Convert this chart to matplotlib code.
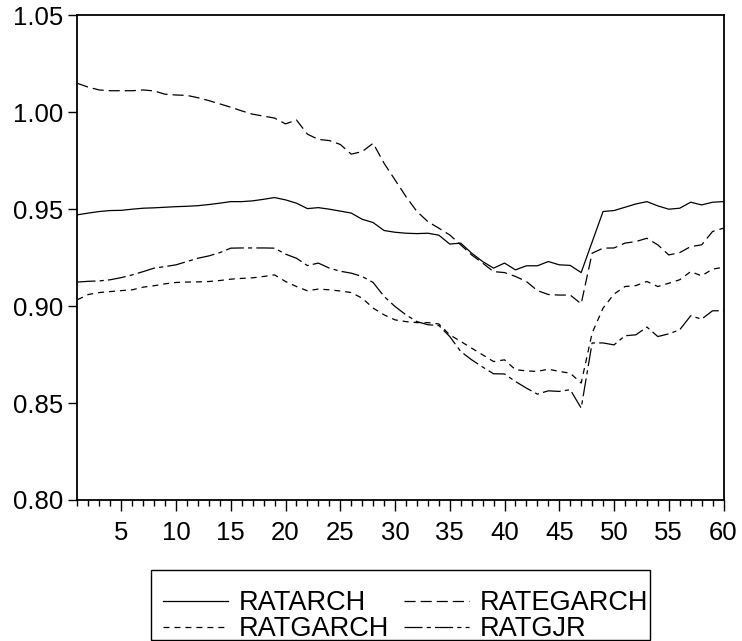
import numpy as np
import matplotlib
matplotlib.use("Agg")
import matplotlib.pyplot as plt
from matplotlib.patches import Rectangle

obs = np.arange(1, 61)

ratarch = [0.9471, 0.9480, 0.9488, 0.9493, 0.9494, 0.9500, 0.9505, 0.9507, 0.9510, 0.9513,
           0.9515, 0.9518, 0.9524, 0.9531, 0.9539, 0.9539, 0.9543, 0.9551, 0.9560, 0.9548,
           0.9531, 0.9503, 0.9508, 0.9500, 0.9490, 0.9480, 0.9448, 0.9431, 0.9390, 0.9381,
           0.9376, 0.9374, 0.9376, 0.9366, 0.9320, 0.9325, 0.9273, 0.9230, 0.9196, 0.9222,
           0.9187, 0.9208, 0.9208, 0.9230, 0.9213, 0.9210, 0.9173, 0.9331, 0.9488, 0.9493,
           0.9510, 0.9527, 0.9539, 0.9517, 0.9500, 0.9505, 0.9536, 0.9522, 0.9536, 0.9539]

ratgarch = [0.9033, 0.9060, 0.9070, 0.9075, 0.9080, 0.9084, 0.9098, 0.9105, 0.9115, 0.9122,
            0.9124, 0.9125, 0.9127, 0.9132, 0.9139, 0.9143, 0.9146, 0.9153, 0.9161, 0.9127,
            0.9101, 0.9079, 0.9088, 0.9084, 0.9078, 0.9070, 0.9041, 0.8990, 0.8955, 0.8929,
            0.8920, 0.8915, 0.8915, 0.8908, 0.8852, 0.8818, 0.8783, 0.8749, 0.8714, 0.8723,
            0.8672, 0.8666, 0.8663, 0.8675, 0.8663, 0.8654, 0.8603, 0.8861, 0.8990, 0.9062,
            0.9101, 0.9106, 0.9127, 0.9101, 0.9118, 0.9136, 0.9178, 0.9156, 0.9191, 0.9200]

ratgjr = [0.9124, 0.9128, 0.9130, 0.9136, 0.9147, 0.9161, 0.9178, 0.9196, 0.9204, 0.9213,
          0.9230, 0.9247, 0.9259, 0.9276, 0.9299, 0.9300, 0.9300, 0.9300, 0.9299, 0.9268,
          0.9247, 0.9209, 0.9222, 0.9196, 0.9180, 0.9170, 0.9153, 0.9122, 0.9050, 0.8998,
          0.8955, 0.8920, 0.8904, 0.8900, 0.8843, 0.8766, 0.8723, 0.8686, 0.8651, 0.8650,
          0.8611, 0.8577, 0.8546, 0.8563, 0.8560, 0.8569, 0.8474, 0.8810, 0.8810, 0.8800,
          0.8847, 0.8852, 0.8892, 0.8843, 0.8857, 0.8878, 0.8950, 0.8933, 0.8976, 0.8976]

ratagarch_e = [1.0149, 1.0129, 1.0115, 1.0111, 1.0111, 1.0111, 1.0115, 1.0110, 1.0093, 1.0089,
               1.0087, 1.0075, 1.0060, 1.0043, 1.0026, 1.0007, 0.9990, 0.9980, 0.9970, 0.9940,
               0.9960, 0.9887, 0.9860, 0.9854, 0.9834, 0.9784, 0.9797, 0.9840, 0.9737, 0.9651,
               0.9565, 0.9488, 0.9436, 0.9402, 0.9367, 0.9316, 0.9264, 0.9222, 0.9178, 0.9173,
               0.9153, 0.9127, 0.9080, 0.9060, 0.9057, 0.9057, 0.9012, 0.9273, 0.9299, 0.9300,
               0.9325, 0.9333, 0.9350, 0.9316, 0.9264, 0.9276, 0.9307, 0.9316, 0.9385, 0.9402]

ytick_vals = [0.80, 0.85, 0.90, 0.95, 1.00, 1.05]
xtick_vals = list(range(5, 61, 5))

plt.rcParams["font.family"] = ["Liberation Sans", "DejaVu Sans"]
plt.rcParams["lines.scale_dashes"] = False

W, H = 742, 641
fig = plt.figure(figsize=(W / 100, H / 100), dpi=100)
ax = fig.add_axes([0.1044, 0.22, 0.8707, 0.7561])

lw = 0.9
h_arch, = ax.plot(obs, ratarch, color="black", lw=lw, label="RATARCH")
h_egarch, = ax.plot(obs, ratagarch_e, color="black", lw=lw, dashes=(8, 3.6), label="RATEGARCH")
h_garch, = ax.plot(obs, ratgarch, color="black", lw=lw, dashes=(4.3, 3.6), label="RATGARCH")
h_gjr, = ax.plot(obs, ratgjr, color="black", lw=lw, dashes=(13, 3, 3, 3), label="RATGJR")

ax.set_xlim(1, 60)
ax.set_ylim(0.80, 1.05)
ax.set_yticks(ytick_vals)
ax.set_yticklabels([f"{v:.2f}" for v in ytick_vals])
ax.set_xticks(xtick_vals)
ax.set_xticks(obs, minor=True)

for s in ax.spines.values():
    s.set_linewidth(1.3)
    s.set_color("black")

ax.tick_params(axis="y", which="major", direction="out", length=6.5, width=1.0,
               labelsize=18.5, pad=4, right=False)
ax.tick_params(axis="x", which="major", direction="out", length=8, width=1.0,
               labelsize=18.5, pad=7, top=False)
ax.tick_params(axis="x", which="minor", direction="out", length=4.5, width=1.0, top=False)

# legend entries in two columns, boxed below the plot
leg = fig.legend(handles=[h_arch, h_garch, h_egarch, h_gjr], ncol=2, loc="center left",
                 bbox_to_anchor=(163 / W, (H - 616) / H), fontsize=19.5, frameon=False,
                 handlelength=2.4, handletextpad=0.41, columnspacing=0.52,
                 labelspacing=0.0, borderpad=0, borderaxespad=0)

frame = Rectangle((150.7 / W, (H - 640) / H), (650 - 150.7) / W, 70 / H,
                  transform=fig.transFigure, fill=False, edgecolor="black", lw=1.0)
fig.patches.append(frame)

fig.savefig("out.png", dpi=100)
